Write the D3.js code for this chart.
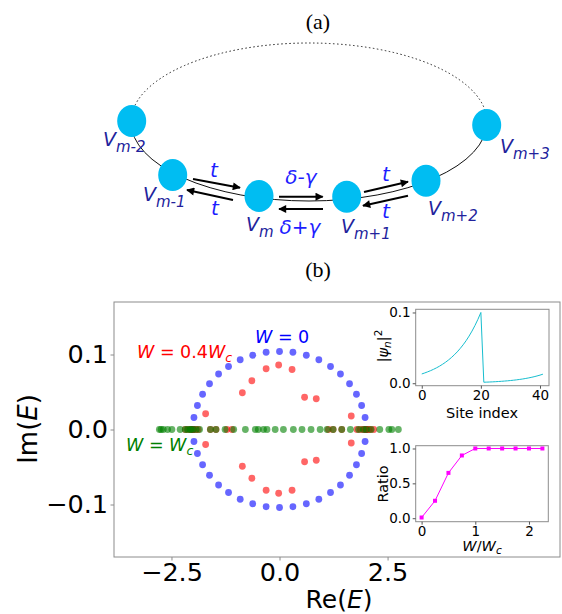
<!DOCTYPE html>
<html>
<head>
<meta charset="utf-8">
<script src="https://cdn.jsdelivr.net/npm/d3@7"></script>
<style>
  body { margin: 0; background: #fff; }
  svg { display: block; font-family: "DejaVu Sans", sans-serif; }
</style>
</head>
<body>
<div id="chart"></div>
<script>
// ---- data ----
// W = 0 spectrum (blue)
const blueRe = [2.00, 1.98, 1.90, 1.78, 1.62, 1.41, 1.18, 0.91, 0.62, 0.31, 0.00,
  -0.31, -0.62, -0.91, -1.18, -1.41, -1.62, -1.78, -1.90, -1.98, -2.00,
  -1.98, -1.90, -1.78, -1.62, -1.41, -1.18, -0.91, -0.62, -0.31, 0.00,
  0.31, 0.62, 0.91, 1.18, 1.41, 1.62, 1.78, 1.90, 1.98];
const blueIm = [0, 0.016, 0.032, 0.047, 0.061, 0.074, 0.084, 0.093, 0.099, 0.103, 0.104,
  0.103, 0.099, 0.093, 0.084, 0.074, 0.061, 0.047, 0.032, 0.016, 0,
  -0.016, -0.032, -0.047, -0.061, -0.074, -0.084, -0.093, -0.099, -0.103, -0.104,
  -0.103, -0.099, -0.093, -0.084, -0.074, -0.061, -0.047, -0.032, -0.016];

// W = 0.4 Wc spectrum (red)
const redRe = [-0.02, -0.31, 0.29, -0.64, -0.86, 0.58, 0.85, -1.71, 1.66,
  -1.71, 1.66, -0.86, 0.58, 0.85, -0.64, -0.31, -0.02, 0.29,
  -2.18, -2.11, -2.05, -2.02, -1.99, -1.93, -1.88, -1.60, -1.47, -1.22, -1.10,
  1.13, 1.24, 1.44, 1.79, 1.87, 1.94, 1.98, 2.02, 2.06, 2.10, 2.18];
const redIm = [0.086, 0.081, 0.080, 0.065, 0.049, 0.043, 0.041, 0.021, 0.018,
  -0.020, -0.018, -0.049, -0.043, -0.041, -0.065, -0.081, -0.085, -0.081,
  0, 0, 0, 0, 0, 0, 0, 0, 0, 0, 0,
  0, 0, 0, 0, 0, 0, 0, 0, 0, 0, 0];

// W = Wc spectrum (green), all real
const greenRe = [-2.78, -2.74, -2.69, -2.59, -2.49, -2.30, -2.18, -2.13, -2.07, -2.05,
  -2.00, -1.93, -1.85, -1.60, -1.47, -1.26, -1.06, -0.79, -0.56, -0.49,
  -0.37, -0.29, -0.10, 0.09, 0.32, 0.52, 0.73, 0.94, 1.10, 1.24,
  1.44, 1.64, 1.83, 1.94, 2.01, 2.12, 2.32, 2.53, 2.60, 2.75];
const greenIm = [0, 0, 0, 0, 0, 0, 0, 0, 0, 0, 0, 0, 0, 0, 0, 0, 0, 0, 0, 0,
  0, 0, 0, 0, 0, 0, 0, 0, 0, 0, 0, 0, 0, 0, 0, 0, 0, 0, 0, 0];

// inset 1: |psi_n|^2 vs site index
const siteIndex = d3.range(0, 42);
const psi2 = [0.0131, 0.0145, 0.0161, 0.0178, 0.0197, 0.0218, 0.0241, 0.0267, 0.0295, 0.0327,
  0.0362, 0.0401, 0.0443, 0.0491, 0.0543, 0.0601, 0.0666, 0.0737, 0.0816, 0.0903,
  0.1000, 0.0014, 0.00156, 0.00175, 0.00195, 0.00218, 0.00244, 0.00272, 0.00304, 0.0034,
  0.00379, 0.00424, 0.00473, 0.00529, 0.0059, 0.00659, 0.00737, 0.00823, 0.00919, 0.01026,
  0.01146, 0.0128];

// inset 2: ratio vs W/Wc
const wRatio = [0, 0.25, 0.5, 0.75, 1.0, 1.25, 1.5, 1.75, 2.0, 2.25];
const ratio = [0.01, 0.25, 0.65, 0.90, 1.0, 1.0, 1.0, 1.0, 1.0, 1.0];

const mainXTicks = [-2.5, 0, 2.5];
const mainYTicks = [-0.1, 0, 0.1];

// ---- page ----
const width = 562;
const height = 614;
const svg = d3.select('#chart').append('svg')
  .attr('width', width)
  .attr('height', height);

const defs = svg.append('defs');
defs.append('marker')
  .attr('id', 'head')
  .attr('viewBox', '0 0 10 10')
  .attr('refX', 9).attr('refY', 5)
  .attr('markerWidth', 11).attr('markerHeight', 8)
  .attr('markerUnits', 'userSpaceOnUse')
  .attr('orient', 'auto')
  .append('path')
  .attr('d', 'M0,0 L10,5 L0,10 z')
  .attr('fill', '#000');

// ---- panel (a): ring diagram ----
svg.append('text')
  .attr('x', 318).attr('y', 29)
  .attr('text-anchor', 'middle')
  .style('font-family', '"Liberation Serif", serif')
  .style('font-size', '22px')
  .text('(a)');

const ring = { cx: 309, cy: 122, rx: 178, ry: 79 };
defs.append('clipPath').attr('id', 'topHalf')
  .append('rect').attr('x', 0).attr('y', 0).attr('width', width).attr('height', 123);
defs.append('clipPath').attr('id', 'botHalf')
  .append('rect').attr('x', 0).attr('y', 123).attr('width', width).attr('height', 200);

svg.append('ellipse')
  .attr('cx', ring.cx).attr('cy', ring.cy).attr('rx', ring.rx).attr('ry', ring.ry)
  .attr('fill', 'none').attr('stroke', '#222').attr('stroke-width', 1)
  .attr('stroke-dasharray', '1.5,2.5')
  .attr('clip-path', 'url(#topHalf)');
svg.append('ellipse')
  .attr('cx', ring.cx).attr('cy', ring.cy).attr('rx', ring.rx).attr('ry', ring.ry)
  .attr('fill', 'none').attr('stroke', '#111').attr('stroke-width', 1)
  .attr('clip-path', 'url(#botHalf)');

const sites = [
  { x: 131.7, y: 121, sub: 'm-2', lx: 103, ly: 146 },
  { x: 172.7, y: 175, sub: 'm-1', lx: 143, ly: 201 },
  { x: 259, y: 196, sub: 'm', lx: 246, ly: 231 },
  { x: 346.7, y: 196.7, sub: 'm+1', lx: 341, ly: 233 },
  { x: 426, y: 180.7, sub: 'm+2', lx: 428, ly: 215 },
  { x: 486.7, y: 125, sub: 'm+3', lx: 500, ly: 153 },
];

svg.append('g').selectAll('ellipse')
  .data(sites)
  .join('ellipse')
  .attr('cx', (d) => d.x).attr('cy', (d) => d.y)
  .attr('rx', 14.5).attr('ry', 16)
  .attr('fill', '#00bdf2');

const vLabels = svg.append('g').selectAll('text')
  .data(sites)
  .join('text')
  .attr('x', (d) => d.lx).attr('y', (d) => d.ly)
  .attr('fill', '#22229c')
  .style('font-style', 'italic')
  .style('font-size', '19px');
vLabels.append('tspan').text('V');
vLabels.append('tspan')
  .attr('dy', 6)
  .style('font-size', '15px')
  .text((d) => d.sub);

const arrows = [
  [193, 179, 240, 187.7], [233, 200, 187, 190],
  [279, 196.7, 322.7, 196.7], [323, 209, 279, 209],
  [364, 192, 408, 181.7], [408, 195.7, 363, 205.7],
];
svg.append('g').selectAll('line')
  .data(arrows)
  .join('line')
  .attr('x1', (d) => d[0]).attr('y1', (d) => d[1])
  .attr('x2', (d) => d[2]).attr('y2', (d) => d[3])
  .attr('stroke', '#000').attr('stroke-width', 2)
  .attr('marker-end', 'url(#head)');

const hopLabels = [
  { x: 214, y: 177, t: 't' }, { x: 215, y: 215, t: 't' },
  { x: 301, y: 184, t: 'δ-γ' }, { x: 300, y: 234, t: 'δ+γ' },
  { x: 386, y: 181, t: 't' }, { x: 386, y: 218, t: 't' },
];
svg.append('g').selectAll('text')
  .data(hopLabels)
  .join('text')
  .attr('x', (d) => d.x).attr('y', (d) => d.y)
  .attr('text-anchor', 'middle')
  .attr('fill', '#1e1eff')
  .style('font-style', 'italic')
  .style('font-size', '20px')
  .text((d) => d.t);

svg.append('text')
  .attr('x', 318).attr('y', 277)
  .attr('text-anchor', 'middle')
  .style('font-family', '"Liberation Serif", serif')
  .style('font-size', '22px')
  .text('(b)');

// ---- panel (b): main spectrum ----
const box = { left: 114, right: 560, top: 302, bottom: 557 };
const xScale = d3.scaleLinear().domain([-3.83, 6.49]).range([box.left, box.right]);
const yScale = d3.scaleLinear().domain([-0.17, 0.17]).range([box.bottom, box.top]);

svg.append('rect')
  .attr('x', box.left).attr('y', box.top)
  .attr('width', box.right - box.left).attr('height', box.bottom - box.top)
  .attr('fill', 'none').attr('stroke', '#8c8c8c').attr('stroke-width', 1);

const series = [
  { re: blueRe, im: blueIm, color: 'rgb(0,0,255)' },
  { re: redRe, im: redIm, color: 'rgb(255,0,0)' },
  { re: greenRe, im: greenIm, color: 'rgb(0,128,0)' },
];
series.forEach((s) => {
  svg.append('g').selectAll('circle')
    .data(s.re.map((r, i) => [r, s.im[i]]))
    .join('circle')
    .attr('cx', (d) => xScale(d[0]))
    .attr('cy', (d) => yScale(d[1]))
    .attr('r', 3.4)
    .attr('fill', s.color)
    .attr('fill-opacity', 0.6);
});

const mainX = svg.append('g')
  .attr('transform', `translate(0, ${box.bottom})`)
  .call(d3.axisBottom(xScale).tickValues(mainXTicks).tickSize(3.5).tickPadding(2)
    .tickFormat((d) => d3.format('.1f')(d).replace('-', '−')));
const mainY = svg.append('g')
  .attr('transform', `translate(${box.left}, 0)`)
  .call(d3.axisLeft(yScale).tickValues(mainYTicks).tickSize(3.5).tickPadding(2.5)
    .tickFormat((d) => d3.format('.1f')(d).replace('-', '−')));
[mainX, mainY].forEach((g) => {
  g.select('.domain').remove();
  g.selectAll('line').attr('stroke', '#8c8c8c');
  g.selectAll('text').attr('fill', '#000')
    .style('font-family', '"DejaVu Sans", sans-serif')
    .style('font-size', '25.5px');
});

const xLab = svg.append('text')
  .attr('x', 339).attr('y', 607.5)
  .attr('text-anchor', 'middle')
  .style('font-size', '25px');
xLab.append('tspan').text('Re(');
xLab.append('tspan').style('font-style', 'italic').text('E');
xLab.append('tspan').text(')');

const yLab = svg.append('text')
  .attr('transform', 'translate(37, 429) rotate(-90)')
  .attr('text-anchor', 'middle')
  .style('font-size', '26px');
yLab.append('tspan').text('Im(');
yLab.append('tspan').style('font-style', 'italic').text('E');
yLab.append('tspan').text(')');

// legend-like labels
function mathLabel(x, y, color, parts) {
  const t = svg.append('text')
    .attr('x', x).attr('y', y)
    .attr('fill', color)
    .style('font-size', '17.5px');
  parts.forEach((p) => {
    const ts = t.append('tspan').text(p.s);
    if (p.it) ts.style('font-style', 'italic');
    if (p.sub) ts.attr('dy', 4).style('font-size', '12.5px');
  });
  return t;
}
mathLabel(255, 343, '#0000ff', [{ s: 'W', it: true }, { s: ' = 0' }]);
mathLabel(137, 358, '#ff0000', [{ s: 'W', it: true }, { s: ' = 0.4' }, { s: 'W', it: true }, { s: 'c', it: true, sub: true }]);
mathLabel(126, 451, '#008000', [{ s: 'W', it: true }, { s: ' = ' }, { s: 'W', it: true }, { s: 'c', it: true, sub: true }]);

// ---- insets ----
function drawInset(cfg) {
  const g = svg.append('g');
  const x = d3.scaleLinear().domain(cfg.xDomain).range([cfg.left, cfg.right]);
  const y = d3.scaleLinear().domain(cfg.yDomain).range([cfg.bottom, cfg.top]);
  g.append('rect')
    .attr('x', cfg.left).attr('y', cfg.top)
    .attr('width', cfg.right - cfg.left).attr('height', cfg.bottom - cfg.top)
    .attr('fill', '#fff').attr('stroke', '#8c8c8c').attr('stroke-width', 1);

  const line = d3.line().x((d) => x(d[0])).y((d) => y(d[1]));
  const pts = cfg.xs.map((v, i) => [v, cfg.ys[i]]);
  g.append('path')
    .datum(pts)
    .attr('d', line)
    .attr('fill', 'none')
    .attr('stroke', cfg.color)
    .attr('stroke-width', 1);
  if (cfg.markers) {
    g.append('g').selectAll('rect')
      .data(pts)
      .join('rect')
      .attr('x', (d) => x(d[0]) - 2).attr('y', (d) => y(d[1]) - 2)
      .attr('width', 4).attr('height', 4)
      .attr('fill', cfg.color);
  }

  const ax = g.append('g')
    .attr('transform', `translate(0, ${cfg.bottom})`)
    .call(d3.axisBottom(x).tickValues(cfg.xTicks).tickSize(3).tickPadding(2)
      .tickFormat(d3.format('d')));
  const ay = g.append('g')
    .attr('transform', `translate(${cfg.left}, 0)`)
    .call(d3.axisLeft(y).tickValues(cfg.yTicks).tickSize(3).tickPadding(2)
      .tickFormat(d3.format('.1f')));
  [ax, ay].forEach((a) => {
    a.select('.domain').remove();
    a.selectAll('line').attr('stroke', '#555');
    a.selectAll('text').attr('fill', '#000')
      .style('font-family', '"DejaVu Sans", sans-serif')
      .style('font-size', '13.5px');
  });
  return g;
}

drawInset({
  left: 415.7, right: 549, top: 309.3, bottom: 385.7,
  xDomain: [-2.05, 43.05], yDomain: [-0.0035, 0.1045],
  xs: siteIndex, ys: psi2, color: '#17becf',
  xTicks: [0, 20, 40], yTicks: [0, 0.1],
});
drawInset({
  left: 415.7, right: 548.3, top: 445.7, bottom: 521.7,
  xDomain: [-0.11, 2.36], yDomain: [-0.05, 1.04],
  xs: wRatio, ys: ratio, color: '#ff00ff', markers: true,
  xTicks: [0, 1, 2], yTicks: [0, 0.5, 1.0],
});

// inset labels
svg.append('text')
  .attr('x', 482).attr('y', 418)
  .attr('text-anchor', 'middle')
  .style('font-size', '14.5px')
  .text('Site index');

const psiLab = svg.append('text')
  .attr('transform', 'translate(388, 346) rotate(-90)')
  .attr('text-anchor', 'middle')
  .style('font-size', '14.5px');
psiLab.append('tspan').text('|');
psiLab.append('tspan').style('font-style', 'italic').text('ψ');
psiLab.append('tspan').attr('dy', 3).style('font-style', 'italic').style('font-size', '10.5px').text('n');
psiLab.append('tspan').attr('dy', -3).text('|');
psiLab.append('tspan').attr('dy', -6).style('font-size', '10.5px').text('2');

svg.append('text')
  .attr('transform', 'translate(388, 484) rotate(-90)')
  .attr('text-anchor', 'middle')
  .style('font-size', '14.5px')
  .text('Ratio');

const wLab = svg.append('text')
  .attr('x', 482).attr('y', 551)
  .attr('text-anchor', 'middle')
  .style('font-size', '14.5px');
wLab.append('tspan').style('font-style', 'italic').text('W');
wLab.append('tspan').text('/');
wLab.append('tspan').style('font-style', 'italic').text('W');
wLab.append('tspan').attr('dy', 3).style('font-style', 'italic').style('font-size', '10.5px').text('c');
</script>
</body>
</html>
